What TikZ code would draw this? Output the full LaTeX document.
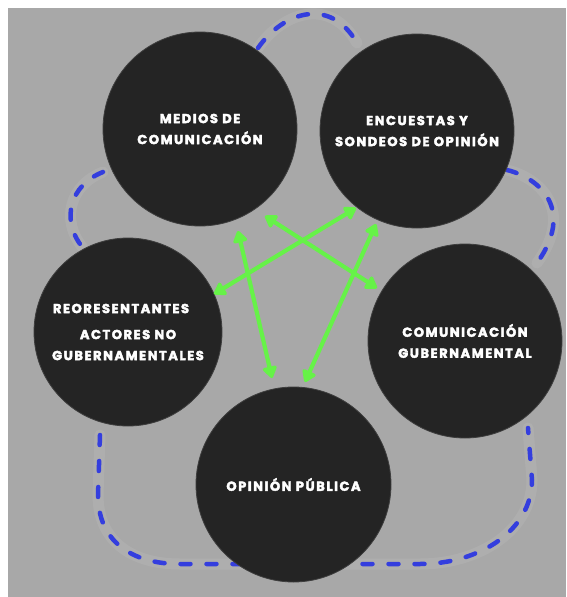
\documentclass[tikz,border=0pt]{standalone}
\usepackage{fontspec}
\newfontfamily\cf{Poppins}[LetterSpace=12, BoldFeatures={FakeBold=3}]
\usetikzlibrary{arrows.meta}
\definecolor{bggray}{RGB}{168,168,168}
\definecolor{circdark}{RGB}{36,36,36}
\definecolor{dashblue}{RGB}{52,62,222}
\definecolor{arrgreen}{RGB}{102,242,72}
\tikzset{
  circ/.style={circle, fill=circdark, draw=circdark!80!bggray, line width=0.8pt, inner sep=0pt, minimum size=#1, text=white, align=center, font=\cf\bfseries\fontsize{13}{21}\selectfont},
  loop/.style={draw=dashblue, line width=4.5pt, line cap=round, dash pattern=on 10pt off 16pt},
  glow/.style={draw=white, opacity=0.07, line width=11pt, line cap=round},
  twoway/.style={draw=arrgreen, line width=4.2pt, {Triangle[width=16pt,length=13pt,round]}-{Triangle[width=16pt,length=13pt,round]}}
}
\begin{document}
\begin{tikzpicture}[x=1pt,y=-1pt]
\useasboundingbox (0,0) rectangle (566,597);
\fill[white] (0,0) rectangle (566,597);
\fill[bggray] (8,8) rectangle (566,597);
% dashed loop pieces
\foreach \st in {glow,loop}{
  \draw[\st] (258,48) .. controls (283,12) and (330,-4) .. (357,43);
  \draw[\st] (507,170) .. controls (540,178) and (575,210) .. (537,263);
  \draw[\st] (103,172) .. controls (70,185) and (60,220) .. (83,248);
  \draw[\st] (100,435) -- (98,495) .. controls (98,540) and (130,564) .. (180,564) -- (420,564) .. controls (480,564) and (532,530) .. (532,480) -- (528,428);
}
% circles
\node[circ=194pt] (medios) at (200,129) {MEDIOS DE\\COMUNICACIÓN};
\node[circ=194pt] (encuestas) at (417,131) {ENCUESTAS Y\\SONDEOS DE OPINIÓN};
\node[circ=188pt] (repres) at (128,332) {\hspace*{-14pt}REORESENTANTES\\[5pt]ACTORES NO\\GUBERNAMENTALES};
\node[circ=194pt] (gobierno) at (465,341) {COMUNICACIÓN\\GUBERNAMENTAL};
\node[circ=195pt] (opinion) at (293.5,484.5) {OPINIÓN PÚBLICA};
% arrow ends
\coordinate (a1) at (265,216);
\coordinate (a2) at (377,288);
\coordinate (b1) at (356,208);
\coordinate (b2) at (214,294);
\coordinate (c1) at (238,231);
\coordinate (c2) at (272,378);
\coordinate (d1) at (376,224);
\coordinate (d2) at (305,382);
\draw[twoway] (a1) -- (a2);
\draw[twoway] (b1) -- (b2);
\draw[twoway] (c1) -- (c2);
\draw[twoway] (d1) -- (d2);
\end{tikzpicture}
\end{document}
